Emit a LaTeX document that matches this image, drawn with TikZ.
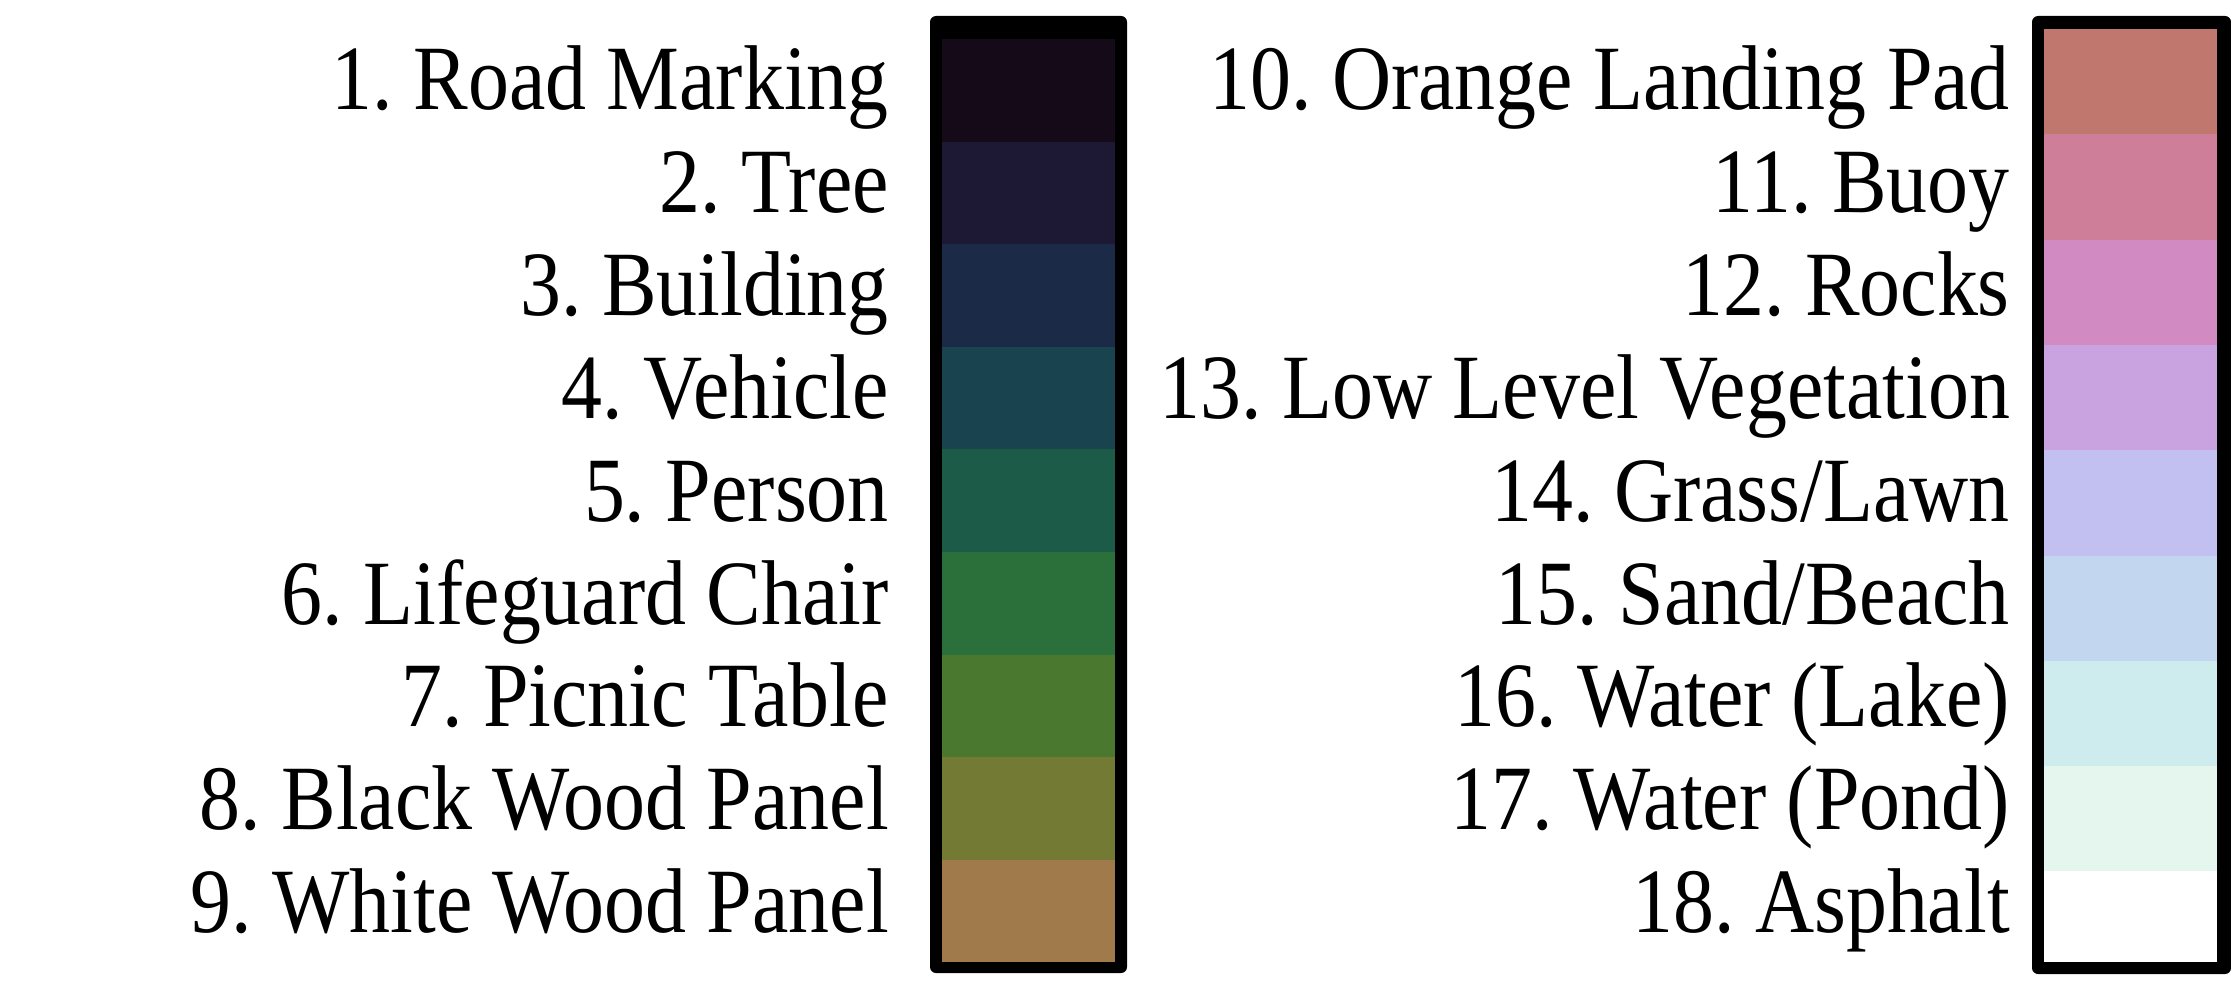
\documentclass[tikz,border=0pt]{standalone}
\usepackage{fontspec}
\setmainfont{Liberation Serif}[FakeStretch=0.89]
\frenchspacing
\definecolor{lgA}{HTML}{140A18}
\definecolor{lgB}{HTML}{1D1934}
\definecolor{lgC}{HTML}{1B2B47}
\definecolor{lgD}{HTML}{18434F}
\definecolor{lgE}{HTML}{1B5B48}
\definecolor{lgF}{HTML}{2B6F3B}
\definecolor{lgG}{HTML}{4A782F}
\definecolor{lgH}{HTML}{737A33}
\definecolor{lgI}{HTML}{A17A4B}
\definecolor{lgJ}{HTML}{C0776D}
\definecolor{lgK}{HTML}{CF7E99}
\definecolor{lgL}{HTML}{D28AC3}
\definecolor{lgM}{HTML}{C9A3E0}
\definecolor{lgN}{HTML}{C2C0F0}
\definecolor{lgO}{HTML}{C2D6F0}
\definecolor{lgP}{HTML}{CEEBEE}
\definecolor{lgQ}{HTML}{E5F6EF}
\definecolor{lgR}{HTML}{FFFFFF}
\begin{document}
\begin{tikzpicture}[x=1pt,y=-1pt,
  lbl/.style={anchor=base east, inner sep=0pt, font=\fontsize{92}{100}\selectfont\frenchspacing},
  barframe/.style={fill=black, rounded corners=6pt}]
\useasboundingbox (0,0) rectangle (2231,1006);
% left bar
\fill[barframe] (930,16) rectangle (1127,973);
\foreach \c [count=\i from 0] in {lgA,lgB,lgC,lgD,lgE,lgF,lgG,lgH,lgI}
  \fill[fill=\c] (942,{39+\i*102.6}) rectangle (1115,{39+(\i+1)*102.6});
% right bar
\fill[barframe] (2032,16) rectangle (2231,974);
\foreach \c [count=\i from 0] in {lgJ,lgK,lgL,lgM,lgN,lgO,lgP,lgQ,lgR}
  \fill[fill=\c] (2044,{29+\i*105.3}) rectangle (2217,{min(962,29+(\i+1)*105.3)});
% labels
\foreach \t [count=\i from 0] in {1. Road Marking,2. Tree,3. Building,4. Vehicle,5. Person,6. Lifeguard Chair,7. Picnic Table,8. Black Wood Panel,9. White Wood Panel}
  \node[lbl] (left\i) at (889,{110+\i*102.8}) {\t};
\foreach \t [count=\i from 0] in {10. Orange Landing Pad,11. Buoy,12. Rocks,13. Low Level Vegetation,14. Grass/Lawn,15. Sand/Beach,16. Water (Lake),17. Water (Pond),18. Asphalt}
  \node[lbl] (right\i) at (2010,{110+\i*102.8}) {\t};
\end{tikzpicture}
\end{document}
